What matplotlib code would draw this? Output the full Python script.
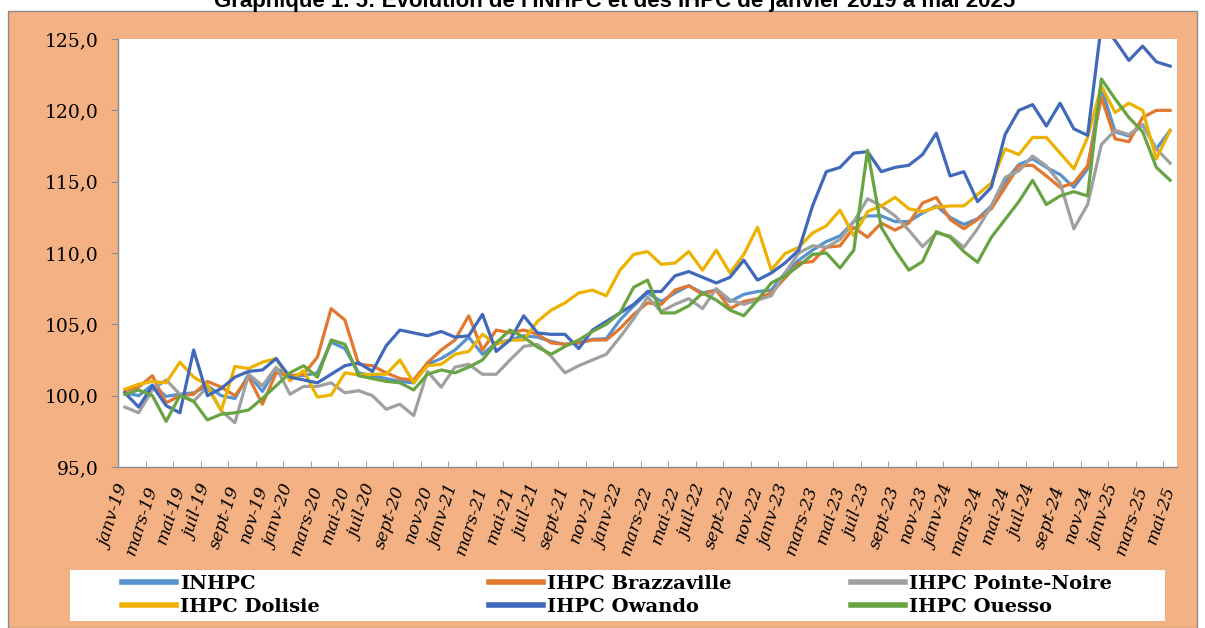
import matplotlib
matplotlib.use("Agg")
import matplotlib.pyplot as plt
from matplotlib.patches import Rectangle

# ── data: indices mensuels, janvier 2019 -> mai 2025 ──
mois = ["janv", "févr", "mars", "avr", "mai", "juin",
        "juil", "août", "sept", "oct", "nov", "déc"]
annees = ["19", "20", "21", "22", "23", "24", "25"]
periodes = [f"{m}-{a}" for a in annees for m in mois][:77]

inhpc = [100.2, 100.0, 100.75, 99.95, 100.1, 100.2, 100.7, 100.0, 99.8, 101.5,
         100.3, 101.9, 101.4, 101.4, 101.6, 103.75, 103.3, 101.6, 101.4, 101.2,
         101.0, 100.9, 102.2, 102.6, 103.2, 104.1, 102.9, 103.7, 103.9, 104.2,
         104.1, 103.8, 103.6, 103.7, 103.95, 104.0, 105.3, 106.3, 107.2, 106.6,
         107.2, 107.7, 107.2, 107.4, 106.6, 107.1, 107.3, 107.4, 108.6, 109.5,
         110.2, 110.8, 111.2, 112.2, 112.6, 112.6, 112.2, 112.2, 112.8, 113.3,
         112.5, 112.0, 112.4, 113.3, 115.0, 116.2, 116.6, 116.0, 115.5, 114.6,
         115.9, 121.6, 118.5, 118.2, 119.0, 117.3, 118.6]

brazzaville = [100.35, 100.6, 101.4, 99.5, 100.0, 100.1, 101.0, 100.6, 100.0, 101.3,
               99.4, 101.6, 101.4, 101.5, 102.7, 106.1, 105.3, 102.2, 102.1, 101.6,
               101.2, 101.1, 102.3, 103.2, 103.9, 105.6, 103.2, 104.6, 104.4, 104.6,
               104.3, 103.7, 103.6, 103.7, 103.9, 103.9, 104.7, 105.7, 106.5, 106.4,
               107.4, 107.7, 107.1, 107.4, 106.1, 106.6, 106.8, 107.2, 108.25, 109.3,
               109.4, 110.4, 110.5, 111.8, 111.1, 112.1, 111.6, 112.1, 113.5, 113.9,
               112.35, 111.7, 112.35, 113.1, 114.6, 116.1, 116.15, 115.4, 114.6, 114.9,
               116.1, 120.9, 118.0, 117.8, 119.5, 120.0, 120.0]

pointe_noire = [99.2, 98.8, 100.4, 101.1, 100.1, 99.6, 100.6, 98.95, 98.1, 101.5,
                100.7, 102.0, 100.1, 100.65, 100.65, 100.9, 100.2, 100.35, 100.0, 99.05,
                99.4, 98.6, 101.7, 100.6, 102.0, 102.2, 101.5, 101.5, 102.5, 103.45,
                103.6, 102.75, 101.6, 102.1, 102.5, 102.9, 104.1, 105.4, 106.9, 105.9,
                106.4, 106.8, 106.1, 107.5, 106.7, 106.4, 106.7, 107.0, 108.6, 110.0,
                110.5, 110.4, 110.95, 112.2, 113.8, 113.3, 112.6, 111.6, 110.45, 111.4,
                111.2, 110.4, 111.7, 113.3, 115.3, 115.75, 116.8, 116.1, 114.9, 111.7,
                113.4, 117.6, 118.6, 118.3, 119.0, 117.3, 116.3]

dolisie = [100.45, 100.8, 101.0, 100.9, 102.35, 101.3, 100.75, 98.95, 102.05, 101.9,
           102.35, 102.6, 101.05, 101.75, 99.9, 100.05, 101.6, 101.45, 101.5, 101.5,
           102.5, 100.9, 102.1, 102.2, 102.9, 103.1, 104.3, 103.6, 103.9, 103.9,
           105.2, 106.0, 106.5, 107.2, 107.4, 107.0, 108.8, 109.9, 110.1, 109.2,
           109.3, 110.1, 108.8, 110.2, 108.6, 109.9, 111.8, 108.8, 109.96, 110.4,
           111.4, 111.9, 113.0, 111.2, 112.9, 113.3, 113.9, 113.1, 112.9, 113.2,
           113.3, 113.3, 114.1, 114.9, 117.3, 116.9, 118.1, 118.1, 117.0, 115.9,
           118.1, 121.7, 119.85, 120.5, 120.0, 116.6, 118.6]

owando = [100.2, 99.2, 100.7, 99.3, 98.8, 103.2, 100.0, 100.5, 101.3, 101.7,
          101.8, 102.6, 101.3, 101.1, 100.9, 101.5, 102.1, 102.3, 101.7, 103.5,
          104.6, 104.4, 104.2, 104.5, 104.1, 104.2, 105.7, 103.1, 103.9, 105.6,
          104.4, 104.3, 104.3, 103.3, 104.6, 105.2, 105.8, 106.4, 107.3, 107.3,
          108.4, 108.7, 108.3, 107.9, 108.3, 109.5, 108.1, 108.6, 109.3, 110.2,
          113.3, 115.7, 116.0, 117.0, 117.1, 115.7, 116.0, 116.15, 116.9, 118.4,
          115.4, 115.7, 113.6, 114.6, 118.3, 120.0, 120.4, 118.9, 120.5, 118.7,
          118.25, 126.0, 124.9, 123.5, 124.5, 123.4, 123.1]

ouesso = [100.1, 100.4, 100.0, 98.2, 100.0, 99.6, 98.3, 98.7, 98.8, 99.0,
          99.8, 100.7, 101.6, 102.1, 101.3, 103.9, 103.6, 101.4, 101.2, 101.0,
          100.9, 100.4, 101.5, 101.8, 101.6, 102.0, 102.5, 103.7, 104.6, 104.1,
          103.4, 102.9, 103.45, 103.9, 104.5, 105.0, 105.8, 107.6, 108.1, 105.8,
          105.8, 106.3, 107.2, 106.7, 106.0, 105.6, 106.7, 107.9, 108.4, 109.1,
          109.9, 110.0, 108.95, 110.2, 117.2, 111.8, 110.2, 108.8, 109.4, 111.5,
          111.1, 110.1, 109.35, 111.1, 112.35, 113.6, 115.1, 113.4, 114.0, 114.3,
          114.0, 122.2, 120.8, 119.5, 118.5, 116.0, 115.1]

series = ["INHPC", "IHPC Brazzaville", "IHPC Pointe-Noire",
          "IHPC Dolisie", "IHPC Owando", "IHPC Ouesso"]
valeurs = [inhpc, brazzaville, pointe_noire, dolisie, owando, ouesso]
couleurs = ["#5592CF", "#E2772F", "#A0A0A0", "#EDB200", "#4169BB", "#68A442"]

# ── figure ──
W, H = 1205, 628
fig = plt.figure(figsize=(W / 100, H / 100), dpi=100, facecolor="white")

# fond saumon du graphique + cadre blanc de la legende
fig.patches.append(Rectangle((8 / W, 0), 1189 / W, 1 - 11 / H, transform=fig.transFigure,
                             facecolor="#F4B183", edgecolor="#8C8C8C", linewidth=1, zorder=-2))
fig.patches.append(Rectangle((70 / W, 1 - 621 / H), 1095 / W, 51 / H, transform=fig.transFigure,
                             facecolor="white", edgecolor="none", zorder=-1))

fig.text(615 / W, 1 - 7 / H, "Graphique 1. 5: Évolution de l'INHPC et des IHPC de janvier 2019 à mai 2025",
         ha="center", va="baseline", fontsize=16, fontweight="bold", family="Liberation Sans")

ax = fig.add_axes([118 / W, 1 - 467 / H, (1177 - 118) / W, (467 - 39) / H])
ax.set_zorder(1)
ax.set_facecolor("white")

x = list(range(len(periodes)))
lignes = []
for nom, v, c in zip(series, valeurs, couleurs):
    l, = ax.plot(x, v, color=c, linewidth=2.3, label=nom, solid_joinstyle="round")
    lignes.append(l)

ax.set_xlim(-0.5, len(periodes) - 0.5)
ax.set_ylim(95, 125)
ax.set_yticks(range(95, 126, 5))
ax.set_yticklabels([f"{t},0" for t in range(95, 126, 5)], family="DejaVu Serif", fontsize=13.5)

ax.set_xticks(x[::2])
ax.set_xticklabels(periodes[::2], rotation=72, ha="right", va="center", rotation_mode="anchor",
                   family="DejaVu Serif", style="italic", fontsize=12.5)
ax.set_xticks([i + 1.5 for i in range(0, len(periodes) - 1, 2)], minor=True)
ax.tick_params(axis="x", which="major", length=0, pad=14)
ax.tick_params(axis="x", which="minor", direction="in", length=4, color="#8C8C8C")
ax.tick_params(axis="y", length=5, color="#8C8C8C", pad=9)

for s in ["top", "right"]:
    ax.spines[s].set_visible(False)
for s in ["left", "bottom"]:
    ax.spines[s].set_color("#8C8C8C")
    ax.spines[s].set_linewidth(1)

# ── legende : 3 colonnes, 2 lignes ──
col_x = [122, 489, 851]
for k, cx in enumerate(col_x):
    idx = [k, k + 3]
    leg = fig.legend([lignes[i] for i in idx], [series[i] for i in idx],
                     loc="center left", bbox_to_anchor=(cx / W, 1 - 595.5 / H),
                     frameon=False, borderpad=0, borderaxespad=0,
                     handlelength=2.8, handletextpad=0.2, labelspacing=0.25,
                     prop={"family": "DejaVu Serif", "weight": "bold", "size": 14})
    for l in leg.get_lines():
        l.set_linewidth(4)

plt.savefig("out.png", dpi=100)
